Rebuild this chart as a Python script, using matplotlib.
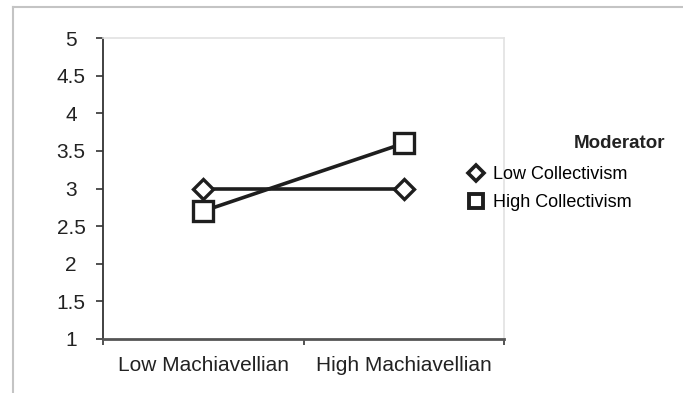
import matplotlib
matplotlib.use("Agg")
import matplotlib.pyplot as plt
from matplotlib.lines import Line2D

plt.rcParams['font.family'] = ['Liberation Sans', 'DejaVu Sans']

categories = ["Low Machiavellian", "High Machiavellian"]
low_collectivism = [3.0, 3.0]
high_collectivism = [2.7, 3.6]
yticks = [1, 1.5, 2, 2.5, 3, 3.5, 4, 4.5, 5]
ytick_labels = ["1", "1.5", "2", "2.5", "3", "3.5", "4", "4.5", "5"]
series_names = ["Low Collectivism", "High Collectivism"]
legend_title = "Moderator"

W, H = 683, 393
fig = plt.figure(figsize=(W / 100, H / 100), dpi=100)
fig.patch.set_facecolor("white")

# outer light border (top and left)
fig.add_artist(Line2D([13 / W, 1.0], [1 - 7 / H, 1 - 7 / H], color="#c4c4c4", lw=1.5))
fig.add_artist(Line2D([13 / W, 13 / W], [0.0, 1 - 7 / H], color="#c4c4c4", lw=1.5))

ax = fig.add_axes([103 / W, 1 - 339 / H, (504 - 103) / W, (339 - 38) / H])
x = list(range(len(categories)))
ink = "#1e1e1e"
ax.plot(x, low_collectivism, color=ink, lw=2.6, marker="D", markersize=10,
        markerfacecolor="white", markeredgecolor=ink, markeredgewidth=2.4, zorder=3)
ax.plot(x, high_collectivism, color=ink, lw=2.6, marker="s", markersize=14,
        markerfacecolor="white", markeredgecolor=ink, markeredgewidth=2.4, zorder=3)

ax.set_xlim(-0.5, 1.5)
ax.set_ylim(1, 5)
ax.set_yticks(yticks)
ax.set_yticklabels(ytick_labels)
ax.set_xticks(x)
ax.set_xticklabels(categories)
ax.set_xticks([-0.5, 0.5, 1.5], minor=True)
ax.tick_params(axis="x", which="major", length=0, pad=12, labelsize=15, labelcolor="#222222")
ax.tick_params(axis="x", which="minor", length=4.5, width=1.3, color="#444444", direction="out")
ax.tick_params(axis="y", length=5, width=1.2, color="#333333", pad=18, labelsize=15,
               labelcolor="#222222")
for lbl in ax.get_yticklabels():
    lbl.set_horizontalalignment("center")

ax.spines["bottom"].set_color("#555555")
ax.spines["bottom"].set_linewidth(2.0)
ax.spines["left"].set_color("#333333")
ax.spines["left"].set_linewidth(1.3)
for s in ("top", "right"):
    ax.spines[s].set_color("#e2e2e2")
    ax.spines[s].set_linewidth(1.2)

handles = [
    Line2D([], [], linestyle="none", marker="D", markersize=8, markerfacecolor="white",
           markeredgecolor=ink, markeredgewidth=2.6),
    Line2D([], [], linestyle="none", marker="s", markersize=10, markerfacecolor="white",
           markeredgecolor=ink, markeredgewidth=2.8),
]
fig.legend(handles, series_names, loc="upper left",
           bbox_to_anchor=(469 / W, 1 - 166 / H), frameon=False,
           handlelength=0.8, handletextpad=0.55, labelspacing=0.62,
           borderpad=0, borderaxespad=0, prop={"size": 13})
fig.text(665 / W, 1 - 143 / H, legend_title, ha="right", va="center",
         fontsize=13.5, fontweight="bold", color="#222222")

fig.savefig("out.png", dpi=100, facecolor="white")
